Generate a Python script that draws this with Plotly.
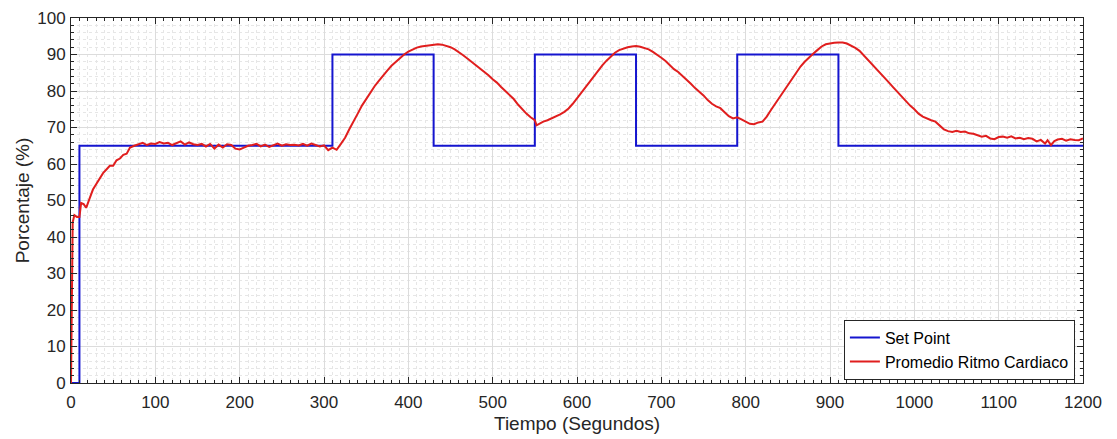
import plotly.graph_objects as go

# Set point (step changes)
sp_time = [0, 10, 310, 430, 550, 670, 790, 910, 1200]
sp_value = [0, 65, 90, 65, 90, 65, 90, 65, 65]

# Average heart rate
hr_time = [0, 2, 4, 7, 10, 12, 15, 18, 22, 26, 30, 34, 38, 42, 46, 50, 54, 58, 62, 66, 70, 75,
           80, 85, 90, 95, 100, 105, 110, 115, 120, 125, 130, 135, 140, 145, 150, 155, 160, 165,
           170, 175, 180, 185, 190, 195, 200, 205, 210, 215, 220, 225, 230, 235, 240, 245, 250,
           255, 260, 265, 270, 275, 280, 285, 290, 295, 300, 305, 310, 315, 320, 325, 330, 335,
           340, 345, 350, 355, 360, 365, 370, 375, 380, 385, 390, 395, 400, 405, 410, 415, 420,
           425, 430, 435, 440, 445, 450, 455, 460, 465, 470, 475, 480, 485, 490, 495, 500, 505,
           510, 515, 520, 525, 530, 535, 540, 545, 550, 552, 555, 560, 565, 570, 575, 580, 585,
           590, 595, 600, 605, 610, 615, 620, 625, 630, 635, 640, 645, 650, 655, 660, 665, 670,
           675, 680, 685, 690, 695, 700, 705, 710, 715, 720, 725, 730, 735, 740, 745, 750, 755,
           760, 765, 770, 775, 780, 785, 790, 795, 800, 805, 810, 815, 820, 825, 830, 835, 840,
           845, 850, 855, 860, 865, 870, 875, 880, 885, 890, 895, 900, 905, 910, 915, 920, 925,
           930, 935, 940, 945, 950, 955, 960, 965, 970, 975, 980, 985, 990, 995, 1000, 1005,
           1010, 1015, 1020, 1025, 1030, 1035, 1040, 1045, 1050, 1055, 1060, 1065, 1070, 1075,
           1080, 1085, 1090, 1095, 1100, 1105, 1110, 1115, 1120, 1125, 1130, 1135, 1140, 1145,
           1150, 1155, 1158, 1162, 1166, 1170, 1175, 1180, 1185, 1190, 1195, 1200]
hr_value = [0, 44, 46, 45.5, 45.5, 49.3, 49, 48, 50.5, 53, 54.5, 56, 57.5, 58.5, 59.5, 59.5, 61,
            61.5, 62.5, 62.8, 64.5, 65, 65.3, 65.8, 65.2, 65.6, 65.5, 66, 65.6, 65.8, 65.2, 65.8,
            66.2, 65.3, 65.9, 65.4, 65.2, 65.5, 64.8, 65.5, 64.2, 65.3, 64.5, 65.4, 65.2, 64.2,
            64, 64.5, 65, 65.2, 65.5, 64.8, 65.3, 64.7, 65.2, 65.6, 65, 65.4, 65.2, 65.3, 65.1,
            65.5, 65, 65.6, 65.2, 64.8, 65.1, 63.8, 64.5, 63.9, 65.5, 67.2, 69.5, 71.5, 73.8, 76,
            77.8, 79.5, 81.3, 82.8, 84.3, 85.6, 86.9, 88, 89.1, 90, 90.8, 91.4, 91.9, 92.2, 92.4,
            92.6, 92.7, 92.8, 92.7, 92.4, 92, 91.4, 90.7, 89.8, 88.9, 88, 87, 86.2, 85.2, 84.3,
            83.2, 82.3, 81.1, 80, 78.9, 77.8, 76.3, 75, 73.8, 72.8, 72, 70.6, 71, 71.6, 72, 72.5,
            73, 73.6, 74.3, 75.2, 76.5, 78, 79.5, 81, 82.6, 84.2, 85.6, 87, 88.3, 89.5, 90.5,
            91.2, 91.7, 92, 92.2, 92.3, 92.1, 91.8, 91.4, 90.7, 90, 89.1, 88.2, 87, 86, 85.2,
            84.2, 83.2, 82, 80.8, 79.8, 78.8, 77.5, 76.5, 75.8, 75.3, 74.2, 73.1, 72.5, 72.8,
            72.2, 71.5, 71, 70.9, 71.4, 71.6, 73, 74.8, 76.5, 78.3, 80, 81.8, 83.5, 85.2, 86.7,
            88, 89.2, 90.2, 91.2, 92.2, 92.8, 93.1, 93.2, 93.3, 93.3, 93, 92.5, 91.8, 91, 89.8,
            88.5, 87.2, 86, 84.8, 83.5, 82.3, 81, 79.7, 78.6, 77.2, 76, 75, 73.8, 73, 72.4, 72,
            71.6, 70.5, 69.5, 69, 68.8, 69.1, 68.8, 68.9, 68.4, 68.3, 67.8, 67.5, 67.7, 67,
            66.8, 67.4, 67.5, 67.2, 67.6, 67, 67.2, 66.8, 67.1, 66.9, 66.2, 66.6, 65.6, 66.5,
            65.2, 66.3, 66.7, 66.9, 66.4, 66.8, 66.6, 66.5, 67]

x_ticks = [0, 100, 200, 300, 400, 500, 600, 700, 800, 900, 1000, 1100, 1200]
y_ticks = [0, 10, 20, 30, 40, 50, 60, 70, 80, 90, 100]
x_title = "Tiempo (Segundos)"
y_title = "Porcentaje (%)"

AX = "#262626"
FONT = "Liberation Sans, Arial, sans-serif"

fig = go.Figure()
fig.add_trace(go.Scatter(x=sp_time, y=sp_value, mode="lines", line_shape="hv",
                         name="Set Point", line=dict(color="#1515CF", width=2)))
fig.add_trace(go.Scatter(x=hr_time, y=hr_value, mode="lines",
                         name="Promedio Ritmo Cardiaco", line=dict(color="#E01E1E", width=2)))

axis_common = dict(
    showline=True, linecolor=AX, linewidth=1, mirror="allticks",
    ticks="inside", ticklen=6, tickcolor=AX, tickwidth=1,
    showgrid=True, gridcolor="#DCDCDC", gridwidth=1,
    zeroline=False, automargin=True,
    tickfont=dict(family=FONT, size=17, color=AX),
)

fig.update_xaxes(range=[0, 1200], tickvals=x_ticks, ticklabelstandoff=4,
                 minor=dict(dtick=10, showgrid=True, gridcolor="#E6E6E6", griddash="dot",
                            ticks="inside", ticklen=3, tickcolor=AX),
                 **axis_common)
fig.update_yaxes(range=[0, 100], tickvals=y_ticks, ticklabelstandoff=1,
                 title=dict(text=y_title, font=dict(family=FONT, size=19, color=AX), standoff=2),
                 minor=dict(dtick=2, showgrid=True, gridcolor="#E6E6E6", griddash="dot",
                            ticks="inside", ticklen=3, tickcolor=AX),
                 **axis_common)

fig.add_annotation(text=x_title, xref="paper", yref="paper", x=0.5, y=0,
                   xanchor="center", yanchor="middle", yshift=-40, showarrow=False,
                   font=dict(family=FONT, size=19, color=AX))

fig.update_layout(
    width=1101, height=427,
    margin=dict(l=63, r=26, t=10, b=52, autoexpand=False),
    paper_bgcolor="white", plot_bgcolor="white",
    font=dict(family=FONT, color=AX),
    legend=dict(x=0.992, y=0.009, xanchor="right", yanchor="bottom",
                bgcolor="white", bordercolor=AX, borderwidth=1,
                font=dict(family=FONT, size=16, color="#000000"),
                tracegroupgap=0, itemwidth=30),
    showlegend=True,
)

fig.write_html("out.html")
